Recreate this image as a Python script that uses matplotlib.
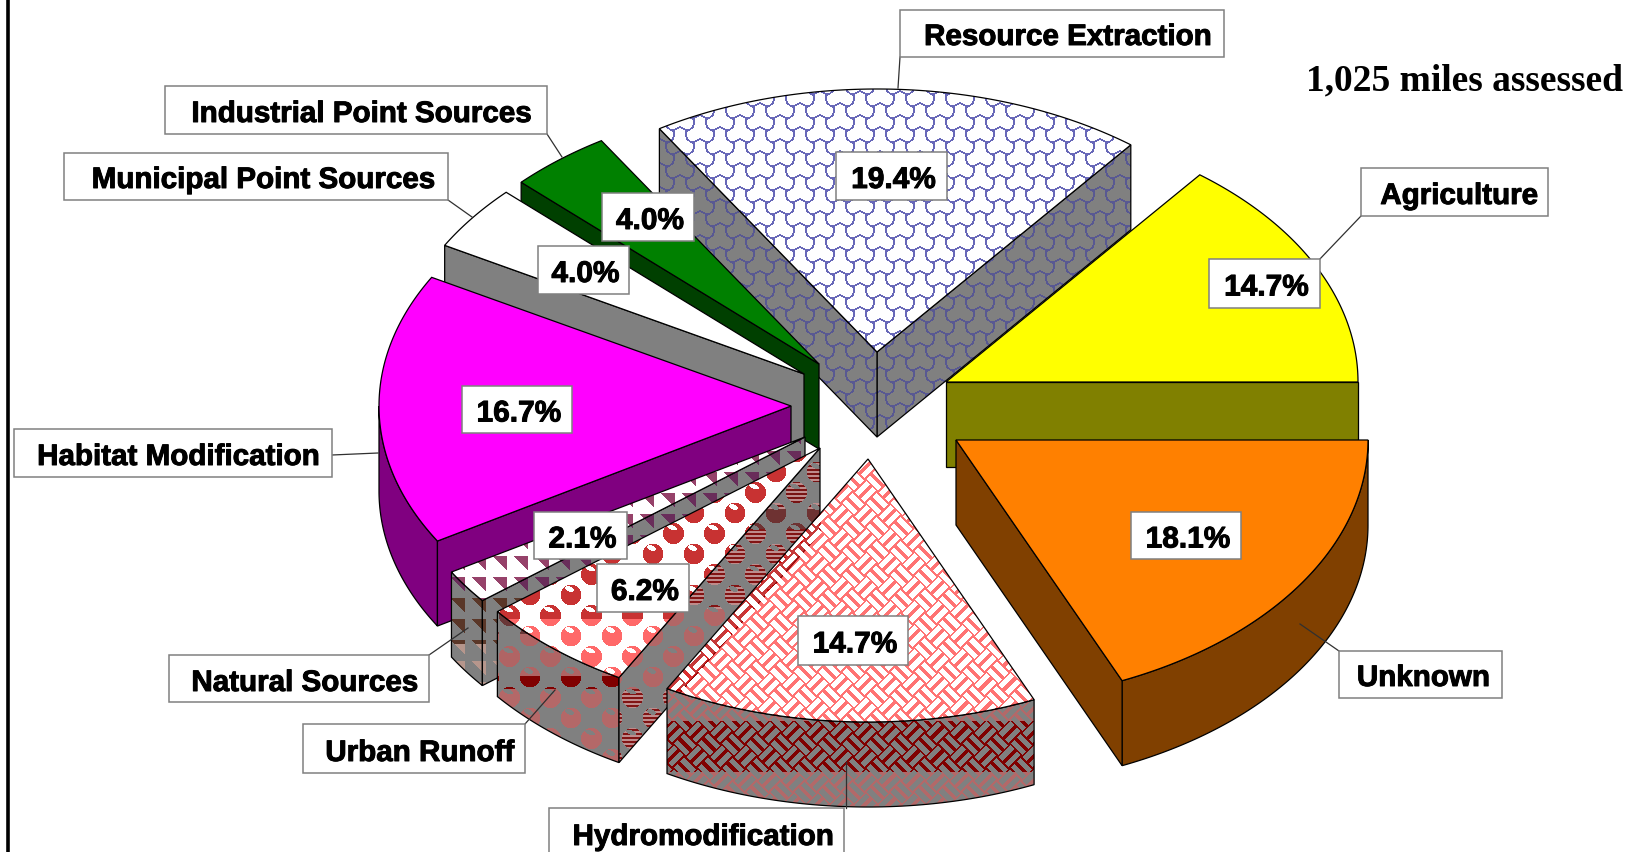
import numpy as np
import matplotlib
matplotlib.use("Agg")
import matplotlib.pyplot as plt
import matplotlib.patheffects as pe
from matplotlib.patches import Polygon, Rectangle

# ---------- data ----------
names = ["Agriculture", "Resource Extraction", "Industrial Point Sources",
         "Municipal Point Sources", "Habitat Modification", "Natural Sources",
         "Urban Runoff", "Hydromodification", "Unknown"]
values = [14.7, 19.4, 4.0, 4.0, 16.7, 2.1, 6.2, 14.7, 18.1]
note = "1,025 miles assessed"

# ---------- layout / style ----------
W, H = 1634, 853
RX, RY, DEPTH = 412, 263, 85
ROTATION = -1.0
apexes = [(946, 383), (877, 353), (819, 365), (804, 375), (791, 407),
          (805, 438), (820, 449), (868, 460), (956, 441)]
top_colors = ["#FFFF00", None, "#008000", "#FFFFFF", "#FF00FF", None, None, None, "#FF8000"]
side_colors = ["#808000", None, "#004000", "#808080", "#800080", None, None, None, "#804000"]
draw_order = [1, 2, 3, 4, 5, 6, 7, 0, 8]
name_boxes = [(1361, 169, 1548, 217), (900, 11, 1224, 58), (165, 87, 547, 135),
              (64, 154, 448, 201), (14, 430, 332, 478), (169, 656, 429, 703),
              (303, 725, 525, 774), (549, 809, 844, 880), (1339, 652, 1502, 699)]
name_text_y = [194, 35, 112, 178, 455, 681, 751, 835, 676]
name_text_dx = [5, 6, 6, 8, 6, 6, 6, 7, 3]
pct_boxes = [(1209, 260, 1320, 309), (836, 153, 947, 201), (602, 194, 694, 242),
             (538, 247, 629, 295), (462, 387, 572, 434), (534, 513, 627, 560),
             (597, 565, 689, 613), (798, 617, 908, 666), (1131, 513, 1241, 560)]
leaders = [((1361, 217), (1318, 262)), ((900, 58), (898, 89)), ((547, 135), (562, 158)),
           ((448, 201), (472, 218)), ((332, 456), (378, 454)), ((429, 656), (468, 629)),
           ((525, 725), (555, 691)), ((846, 809), (846, 763)), ((1339, 652), (1300, 625))]

# ---------- textures ----------
px = np.arange(W) + 0.5
py = np.arange(H) + 0.5
X, Y = np.meshgrid(px, py)

def paint(arr, mask, colour):
    arr[mask] = colour

def band_paint(arr, mask, bands):
    lo = -1e9
    for hi, colour in bands:
        paint(arr, mask & (Y >= lo) & (Y < hi), colour)
        lo = hi

def layer(bg=None):
    arr = np.zeros((H, W, 4), dtype=np.uint8)
    if bg is not None:
        arr[:] = bg
    return arr

def trefoil_mask():
    cw, ch = 20.0, 24.0
    tx, ty = np.meshgrid(np.arange(40) + 0.5, np.arange(24) + 0.5)
    costs = []
    for ci in range(-2, 5):
        for cj in range(-2, 4):
            cx = ci * cw
            cy = cj * ch + (ci % 2) * ch / 2
            dx, dy = tx - cx, ty - cy
            rho = np.hypot(dx, dy)
            th = np.arctan2(-dy, dx)
            costs.append(rho / (1 + 0.30 * np.cos(3 * (th - np.pi / 2))))
    costs = np.sort(np.array(costs), axis=0)
    tile = (costs[1] - costs[0]) < 2.3
    return tile[(Y.astype(int)) % 24, (X.astype(int)) % 40]

def weave_mask():
    s = 17.0
    u = (X + Y) / np.sqrt(2)
    v = (X - Y) / np.sqrt(2)
    ci, cj = np.floor(u / s), np.floor(v / s)
    fu, fv = u - ci * s, v - cj * s
    even = (ci + cj) % 2 == 0
    def bars(a, b):
        return (((a > 1.2) & (a < 6.4)) | ((a > 10.0) & (a < 15.2))) & (b > 0.3) & (b < 16.7)
    return (even & bars(fv, fu)) | (~even & bars(fu, fv))

def sphere_masks():
    p, r = 20.5, 10.5
    j = np.round((Y - 678) / p)
    i = np.round((X - 530 - (j % 2) * p) / (2 * p))
    dx = X - 530 - (j % 2) * p - i * 2 * p
    dy = Y - 678 - j * p
    ball = np.hypot(dx, dy) < r
    hx, hy = dx + 1.5, dy + 6.0
    c, s = np.cos(np.radians(20)), np.sin(np.radians(20))
    shine = ((hx * c + hy * s) / 5.0) ** 2 + ((-hx * s + hy * c) / 2.4) ** 2 < 1
    return ball, shine

def triangle_mask():
    fx = (X - 471) % 21
    fy = (Y - 578) % 21
    return (fx < 15) & (fy < fx)

tref = trefoil_mask()
weave = weave_mask()
ball, shine = sphere_masks()
tri = triangle_mask()
lines = (Y.astype(int) % 4) < 2

tex_res_top = layer((255, 255, 255, 255)); paint(tex_res_top, tref, (104, 104, 184, 255))
tex_res_side = layer((128, 128, 128, 255)); paint(tex_res_side, tref, (88, 88, 146, 255))

tex_hyd_top = layer((255, 0, 0, 140)); paint(tex_hyd_top, weave, (255, 255, 255, 255))
tex_hyd_side = layer()
band_paint(tex_hyd_side, np.ones_like(X, bool), [(722, (178, 105, 105, 255)),
                                                 (773, (128, 0, 0, 255)),
                                                 (9999, (178, 105, 105, 255))])
paint(tex_hyd_side, weave, (128, 128, 128, 255))

tex_urb_top = layer((255, 255, 255, 255))
band_paint(tex_urb_top, ball, [(620, (200, 50, 50, 255)), (9999, (255, 105, 105, 255))])
paint(tex_urb_top, ball & shine, (255, 255, 255, 255))

tex_urb_rim = layer((128, 128, 128, 255))
band_paint(tex_urb_rim, ball, [(635, (105, 55, 55, 255)), (677, (176, 100, 100, 255)),
                               (690, (128, 0, 0, 255)), (9999, (180, 104, 104, 255))])
paint(tex_urb_rim, ball & shine, (128, 128, 128, 255))

tex_urb_face = layer((128, 128, 128, 255))
band_paint(tex_urb_face, ball, [(510, (120, 20, 20, 255)), (530, (110, 50, 50, 255)),
                                (610, (130, 20, 20, 255)), (690, (178, 102, 102, 255)),
                                (9999, (130, 20, 20, 255))])
stripe_zone = ball & lines & (((Y < 510)) | ((Y > 530) & (Y < 610)) | (Y > 690))
paint(tex_urb_face, stripe_zone, (190, 140, 140, 255))
paint(tex_urb_face, ball & shine, (128, 128, 128, 255))

tex_nat_top = layer((255, 255, 255, 255)); paint(tex_nat_top, tri, (150, 66, 106, 255))
tex_nat_side = layer((128, 128, 128, 255))
band_paint(tex_nat_side, tri, [(597, (105, 45, 90, 255)), (645, (90, 55, 40, 255)),
                               (9999, (182, 150, 140, 255))])

top_tex = {1: tex_res_top, 5: tex_nat_top, 6: tex_urb_top, 7: tex_hyd_top}
rim_tex = {1: tex_res_side, 5: tex_nat_side, 6: tex_urb_rim, 7: tex_hyd_side}
face_tex = {1: tex_res_side, 5: tex_nat_side, 6: tex_urb_face, 7: tex_hyd_side}

# ---------- figure ----------
fig = plt.figure(figsize=(W / 100, H / 100), dpi=100, facecolor="white")
ax = fig.add_axes([0, 0, 1, 1])
ax.set_axis_off()

edges = ROTATION + 360 * np.cumsum([0] + values) / np.sum(values)
edges[0], edges[-1] = 0.0, 360.0

z = [10]
def next_z():
    z[0] += 1
    return z[0]

def face(points, colour, tex):
    zz = next_z()
    pts = np.asarray(points)
    if tex is not None:
        clip = Polygon(pts, closed=True, fc="none", ec="none", transform=ax.transData)
        ax.add_patch(clip)
        im = ax.imshow(tex, extent=(0, W, H, 0), origin="upper", aspect="auto",
                       interpolation="nearest", zorder=zz)
        im.set_clip_path(clip)
        ax.add_patch(Polygon(pts, closed=True, fc="none", ec="black", lw=0.9, zorder=zz + 0.5))
    else:
        ax.add_patch(Polygon(pts, closed=True, fc=colour, ec="black", lw=0.9, zorder=zz + 0.5))

def arc(apex, t0, t1):
    ts = np.radians(np.linspace(t0, t1, 120))
    return np.column_stack([apex[0] + RX * np.cos(ts), apex[1] - RY * np.sin(ts)])

shift = np.array([0, DEPTH])
for k in draw_order:
    apex = np.array(apexes[k], float)
    t0, t1 = edges[k], edges[k + 1]
    lo, hi = max(t0, 180.0), t1
    if hi > lo:
        outer = arc(apex, lo, hi)
        face(np.vstack([outer, (outer + shift)[::-1]]), side_colors[k], rim_tex.get(k))
    for t, test in ((t0, np.cos(np.radians(t0)) > 0), (t1, np.cos(np.radians(t1)) < 0)):
        if test:
            rim = arc(apex, t, t)[0]
            face([apex, rim, rim + shift, apex + shift], side_colors[k], face_tex.get(k))
    face(np.vstack([apex, arc(apex, t0, t1)]), top_colors[k], top_tex.get(k))

# leaders
for a, b in leaders:
    ax.plot([a[0], b[0]], [a[1], b[1]], color="#303030", lw=0.9, zorder=500)

heavy = [pe.withStroke(linewidth=0.7, foreground="black")]

def boxed(box, text, ty, size, xoff):
    x0, y0, x1, y1 = box
    ax.add_patch(Rectangle((x0, y0), x1 - x0, y1 - y0, fc="white", ec="#808080", lw=1.1, zorder=600))
    ax.text((x0 + x1) / 2 + xoff, ty, text, ha="center", va="center_baseline", fontsize=size,
            fontweight="bold", family="Liberation Sans", color="black", zorder=601,
            path_effects=heavy)

for k, nm in enumerate(names):
    boxed(name_boxes[k], nm, name_text_y[k], 21.3, name_text_dx[k])
for k, v in enumerate(values):
    b = pct_boxes[k]
    boxed(b, f"{v:.1f}%", (b[1] + b[3]) / 2 + 1, 21.5, 2)

ax.text(1465, 77, note, ha="center", va="center_baseline", fontsize=27, fontweight="bold",
        family="Liberation Serif", color="black", zorder=601)

# left border
ax.plot([8.5, 8.5], [0, H], color="black", lw=2.6, zorder=700, solid_capstyle="butt")

ax.set_xlim(0, W)
ax.set_ylim(H, 0)
fig.savefig("out.png", dpi=100, facecolor="white")
